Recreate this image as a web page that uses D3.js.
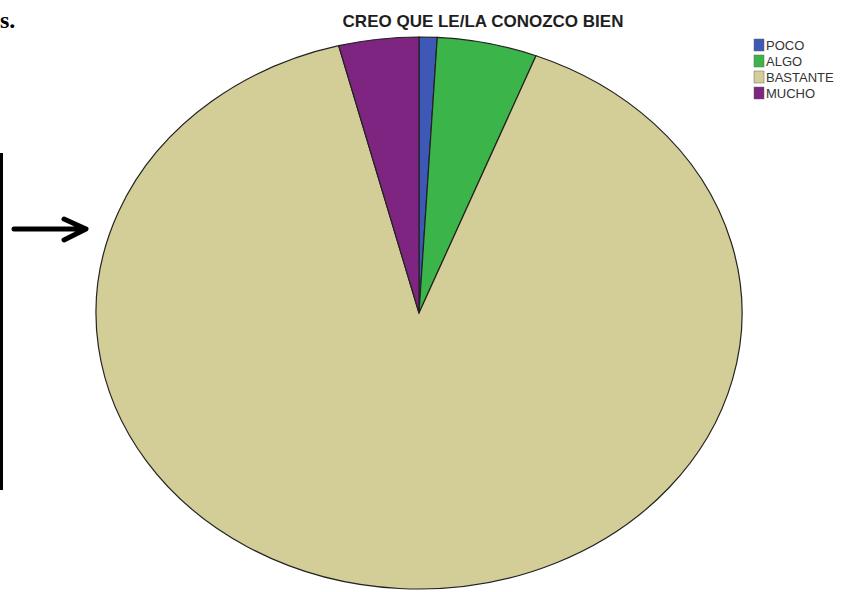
<!DOCTYPE html>
<html><head><meta charset="utf-8">
<script src="https://cdn.jsdelivr.net/npm/d3@7"></script>
<style>body{margin:0;background:#fff}svg{display:block}</style>
</head><body>
<script>
const categories = ["POCO", "ALGO", "BASTANTE", "MUCHO"];
const values = [0.9, 5.0, 90.1, 4.0];
const colors = ["#3E58B5", "#3BB54A", "#D3CE97", "#7D2581"];
const title = "CREO QUE LE/LA CONOZCO BIEN";

const W = 845, H = 592;
const svg = d3.select("body").append("svg").attr("width", W).attr("height", H);

// document fragments around the chart
svg.append("text").attr("x", 0).attr("y", 28)
  .attr("font-family", "Liberation Serif, Times New Roman, serif")
  .attr("font-weight", "bold").attr("font-size", 24).attr("fill", "#000").text("s.");
svg.append("rect").attr("x", 0).attr("y", 153).attr("width", 3).attr("height", 337).attr("fill", "#000");
const arrowLine = d3.line();
svg.append("path")
  .attr("d", arrowLine([[14, 229], [84, 229]]) + arrowLine([[64, 219], [86, 229], [64, 240]]))
  .attr("fill", "none").attr("stroke", "#000").attr("stroke-width", 5)
  .attr("stroke-linecap", "round").attr("stroke-linejoin", "round");

// pie
const cx = 419, cy = 313, rx = 323, ry = 276;
const pie = d3.pie().sort(null).value(d => d)(values);
const arc = d3.arc().innerRadius(0).outerRadius(ry);
const g = svg.append("g").attr("transform", `translate(${cx},${cy}) scale(${rx / ry},1)`);
g.selectAll("path").data(pie).join("path")
  .attr("d", arc)
  .attr("fill", (d, i) => colors[i])
  .attr("stroke", "#222").attr("stroke-width", 1.2)
  .attr("vector-effect", "non-scaling-stroke");

// title
svg.append("text").attr("x", 483).attr("y", 27).attr("text-anchor", "middle")
  .attr("font-family", "Liberation Sans, Arial, sans-serif").attr("font-weight", "bold")
  .attr("font-size", 17).attr("fill", "#1e1e1e").text(title);

// legend
const lg = svg.append("g").attr("transform", "translate(754,39)");
const items = lg.selectAll("g").data(categories).join("g")
  .attr("transform", (d, i) => `translate(0,${i * 16})`);
items.append("rect").attr("width", 10).attr("height", 12)
  .attr("fill", (d, i) => colors[i]).attr("stroke", "#666").attr("stroke-width", 0.5);
items.append("text").attr("x", 12).attr("y", 11)
  .attr("font-family", "Liberation Sans, Arial, sans-serif").attr("font-size", 13)
  .attr("fill", "#333").text(d => d);
</script>
</body></html>
